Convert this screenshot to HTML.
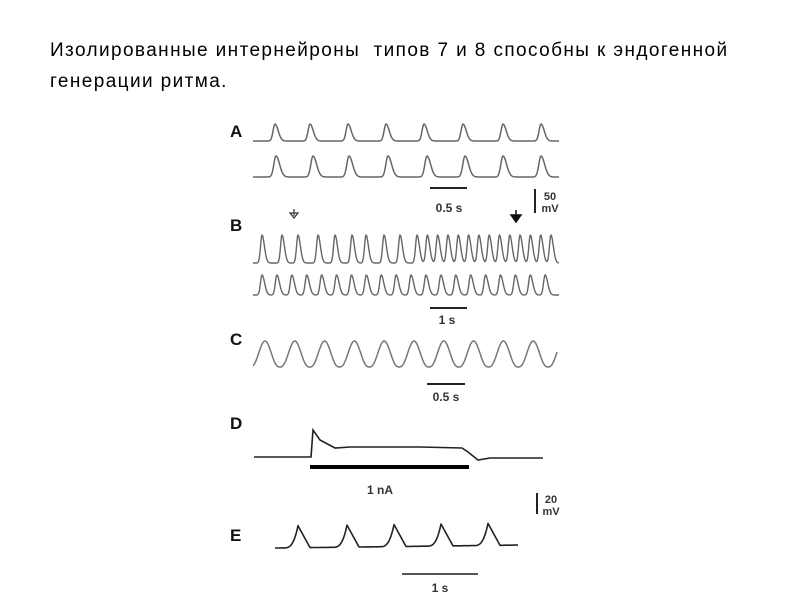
<!DOCTYPE html>
<html><head><meta charset="utf-8"><style>
html,body{margin:0;padding:0;background:#fff;width:800px;height:600px;overflow:hidden}
.t{position:absolute;left:50px;font-family:"Liberation Sans",sans-serif;font-size:19px;letter-spacing:1.4px;color:#000;white-space:nowrap}
svg{position:absolute;left:0;top:0}
</style></head><body>
<div class="t" style="top:40px">Изолированные интернейроны&nbsp; типов 7 и 8 способны к эндогенной</div>
<div class="t" style="top:71px">генерации ритма.</div>
<svg width="800" height="600" xmlns="http://www.w3.org/2000/svg" font-family="Liberation Sans, sans-serif">
<g font-weight="bold" font-size="17" fill="#111">
<text x="230" y="137">A</text><text x="230" y="231">B</text><text x="230" y="345">C</text><text x="230" y="429">D</text><text x="230" y="541">E</text>
</g>
<g id="traces" fill="none" stroke-linejoin="round"></g>
<g stroke="#222" stroke-width="2">
<line x1="430" y1="188" x2="467" y2="188"/>
<line x1="535" y1="189" x2="535" y2="213"/>
<line x1="430" y1="308" x2="467" y2="308"/>
<line x1="427" y1="384" x2="465" y2="384"/>
<line x1="537" y1="493" x2="537" y2="514"/>
<line x1="402" y1="574" x2="478" y2="574" stroke="#555"/>
</g>
<line x1="310" y1="467" x2="469" y2="467" stroke="#000" stroke-width="4"/>
<g font-size="12" font-weight="bold" fill="#333" text-anchor="middle">
<text x="449" y="212">0.5 s</text>
<text x="550" y="200" font-size="11">50</text><text x="550" y="212" font-size="11">mV</text>
<text x="447" y="324">1 s</text>
<text x="446" y="401">0.5 s</text>
<text x="380" y="494">1 nA</text>
<text x="551" y="503" font-size="11">20</text><text x="551" y="515" font-size="11">mV</text>
<text x="440" y="592">1 s</text>
</g>
<path d="M294 209v7M290 213l4 5 4-5z" stroke="#333" fill="#fff" stroke-width="1.2"/>
<path d="M516 210v6M511 215l5 7 5-7z" stroke="#111" fill="#111" stroke-width="1.5"/>
<path d="M254 457H311L313 430L320 440L335 448L350 447H420L462 448L468 452L478 460L490 458H543" stroke="#222" stroke-width="1.6" fill="none"/>
</svg>
<script>
var g=document.getElementById('traces');
function add(d,c,w){var p=document.createElementNS('http://www.w3.org/2000/svg','path');p.setAttribute('d',d);p.setAttribute('stroke',c);p.setAttribute('stroke-width',w);g.appendChild(p);}
function spikes(x0,x1,base,peaks,amp,wid){
 var d='',first=true;
 for(var x=x0;x<=x1;x+=0.5){
  var y=base;
  for(var i=0;i<peaks.length;i++){var dx=x-peaks[i];
   var s=dx<0?wid*0.6:wid;y-=amp*Math.exp(-(dx*dx)/(2*s*s));
  }
  d+=(first?'M':'L')+x.toFixed(1)+' '+y.toFixed(1);first=false;
 }
 return d;
}
function lin(a,b,s){var r=[];for(var x=a;x<=b+0.1;x+=s)r.push(x);return r;}
add(spikes(253,559,141,[275,310,348,386,424,463,503,541],17,3.2),'#666',1.5);
add(spikes(253,559,177,[276,313,349,388,427,465,503,541],21,3.6),'#666',1.5);
var bp=[262,282,298,318,335,352,366,384,400].concat(lin(417,556,10.3));
add(spikes(253,559,263,bp,28,2.4),'#666',1.4);
add(spikes(253,559,295,lin(262,545,14.9),20,2.6),'#666',1.4);
var d='';for(var x=253;x<=557;x+=0.5){var ph=(x-265)/29.8*2*Math.PI;var v=Math.cos(ph);v=(v+1)/2;v=Math.pow(v,1.3);d+=(x==253?'M':'L')+x+' '+(367-26*v).toFixed(1);}
add(d,'#777',1.5);
var ep=[298,347,394,441,488];d='';
for(var x=275;x<=518;x+=0.5){var y=548-(x-275)*0.012;for(var i=0;i<ep.length;i++){var dx=x-ep[i];if(dx<0&&dx>-14)y-=22*Math.pow(1+dx/14,3);else if(dx>=0&&dx<12)y-=22*(1-dx/12);}d+=(x==275?'M':'L')+x+' '+y.toFixed(1);}
add(d,'#222',1.6);
</script>
</body></html>
